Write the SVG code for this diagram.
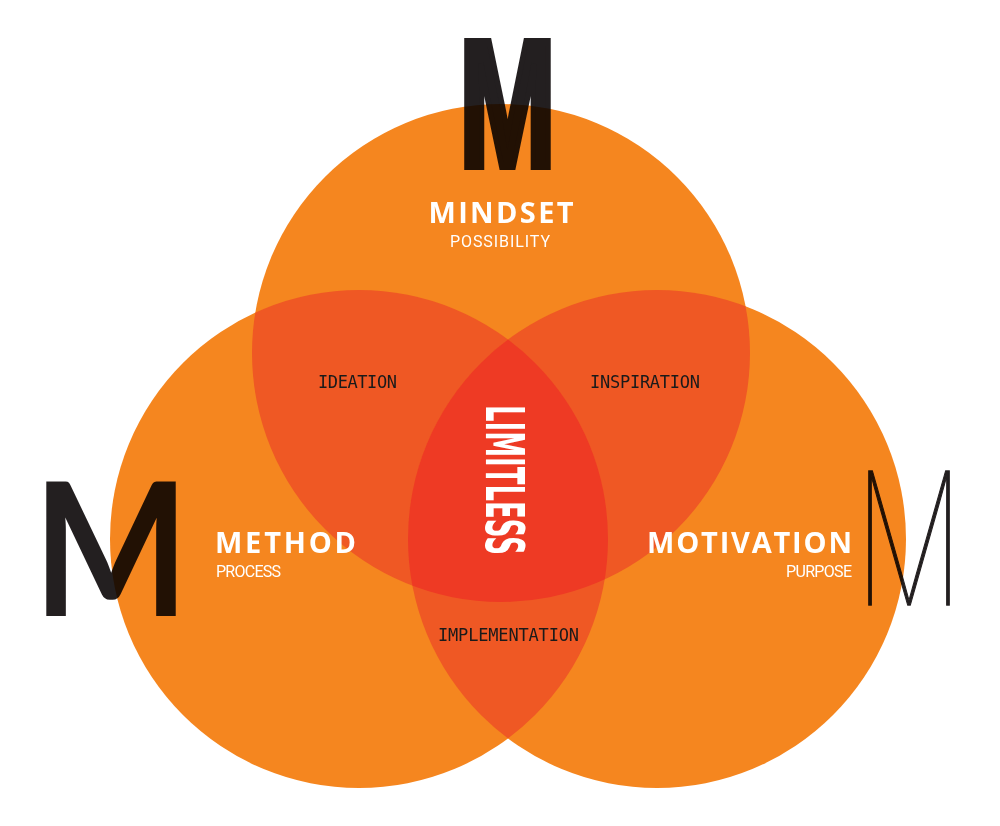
<svg xmlns="http://www.w3.org/2000/svg" width="1000" height="826" viewBox="0 0 1000 826">
<style>
.base{fill:#F5861F}
.two{fill:#EF5824}
.three{fill:#EE3A24}
.big{fill:#FFFFFF;font-family:"Open Sans",Lato,"Liberation Sans",sans-serif;font-weight:700;font-size:29px}
.sub{fill:#FFFFFF;font-family:Roboto,"Liberation Sans",sans-serif;font-weight:400;font-size:16px}
.mono{fill:#1A1A1A;font-family:"DejaVu Sans Mono","Liberation Mono",monospace;font-size:17px}
.lim{fill:#FFFFFF;font-family:"DejaVu Sans Condensed","Liberation Sans",sans-serif;font-weight:700;font-size:54px}
.m{fill:#231F20;mix-blend-mode:multiply}
</style>
<defs>
<clipPath id="cTop"><circle cx="501" cy="353" r="249"/></clipPath>
<clipPath id="cLeft"><circle cx="359" cy="539" r="249"/></clipPath>
<clipPath id="cRight"><circle cx="657" cy="539" r="249"/></clipPath>
</defs>
<rect width="1000" height="826" fill="#FFFFFF"/>
<g id="circles">
<circle id="mindset-circle" class="base" cx="501" cy="353" r="249"/>
<circle id="method-circle" class="base" cx="359" cy="539" r="249"/>
<circle id="motivation-circle" class="base" cx="657" cy="539" r="249"/>
<circle id="ideation-overlap" class="two" cx="359" cy="539" r="249" clip-path="url(#cTop)"/>
<circle id="inspiration-overlap" class="two" cx="657" cy="539" r="249" clip-path="url(#cTop)"/>
<circle id="implementation-overlap" class="two" cx="657" cy="539" r="249" clip-path="url(#cLeft)"/>
<g clip-path="url(#cTop)"><circle id="limitless-overlap" class="three" cx="657" cy="539" r="249" clip-path="url(#cLeft)"/></g>
</g>
<g id="mindset">
<text class="m" x="459" y="166" font-family="'Liberation Sans',sans-serif" font-weight="700" font-size="180" stroke="#231F20" stroke-width="8" stroke-linejoin="miter" textLength="97" lengthAdjust="spacingAndGlyphs">M</text>
<text class="big" x="501" y="223" text-anchor="middle" textLength="145">MINDSET</text>
<text class="sub" x="500" y="247" text-anchor="middle" textLength="100">POSSIBILITY</text>
</g>
<g id="method">
<text class="m" x="33" y="616" font-family="Lato,'Open Sans',sans-serif" font-weight="700" font-size="186" textLength="156" lengthAdjust="spacingAndGlyphs">M</text>
<text class="big" x="215" y="553" textLength="141">METHOD</text>
<text class="sub" x="216" y="577" textLength="65">PROCESS</text>
</g>
<g id="motivation">
<text class="m" x="855" y="605" font-family="Inter,Lato,sans-serif" font-weight="100" font-size="184" stroke="#231F20" stroke-width="1.5" textLength="108" lengthAdjust="spacingAndGlyphs">M</text>
<text class="big" x="852" y="553" text-anchor="end" textLength="205">MOTIVATION</text>
<text class="sub" x="852" y="577" text-anchor="end" textLength="66">PURPOSE</text>
</g>
<g id="ideation"><text class="mono" x="318" y="388" textLength="79">IDEATION</text></g>
<g id="inspiration"><text class="mono" x="590" y="388" textLength="110">INSPIRATION</text></g>
<g id="implementation"><text class="mono" x="438" y="641" textLength="141">IMPLEMENTATION</text></g>
<g id="limitless"><text class="lim" transform="translate(486,405) rotate(90)" x="0" y="0" textLength="150" lengthAdjust="spacingAndGlyphs">LIMITLESS</text></g>
<g id="connectors"></g>
</svg>
